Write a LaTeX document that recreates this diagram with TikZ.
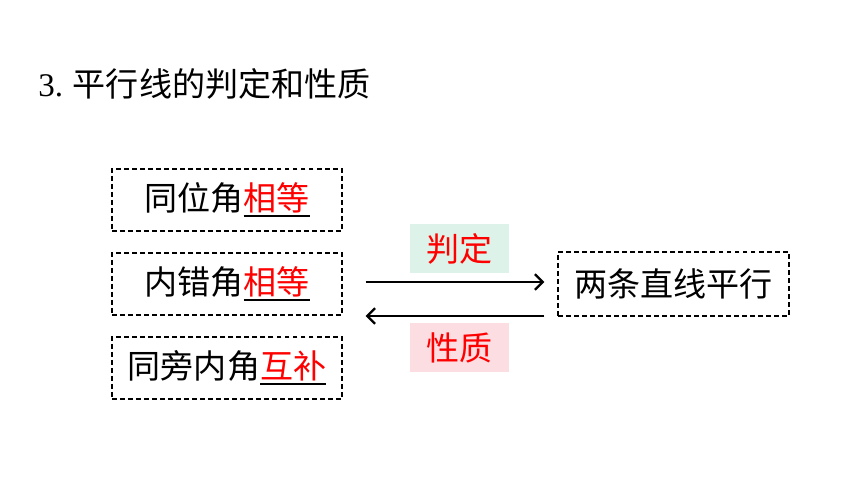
\documentclass[tikz,border=0pt]{standalone}
\usepackage{fontspec}
\setmainfont{Liberation Serif}
\newfontfamily\cjk{Noto Sans CJK SC}
\usetikzlibrary{arrows.meta}

\definecolor{jdgreen}{RGB}{221,243,233}
\definecolor{xzpink}{RGB}{251,221,226}

\newsavebox\fillbox
\newcommand{\fillin}[1]{\sbox\fillbox{\textcolor{red}{#1}}\leavevmode\rlap{\rule[-4.5pt]{\wd\fillbox}{1.3pt}}\usebox\fillbox}

\begin{document}
\begin{tikzpicture}[x=0.025cm, y=-0.025cm, every node/.style={font=\cjk\fontsize{23.5}{28}\selectfont}]
  \tikzset{
    condbox/.style={draw, line width=1pt, dash pattern=on 3.5pt off 2.2pt,
      minimum width=5.75cm, minimum height=1.55cm, inner sep=0pt},
    tagbox/.style={minimum width=2.475cm, minimum height=1.225cm, inner sep=0pt, text=red},
    link/.style={line width=1.6pt, -{Straight Barb[length=5.5pt,width=11pt]}}
  }
  \useasboundingbox (0,0) rectangle (860,484);

  % title
  \node (title) [anchor=west, inner sep=0pt] at (38,84) {{\rmfamily 3.} 平行线的判定和性质};

  % conditions
  \node (corr) [condbox] at (227,200) {同位角\fillin{相等}};
  \node (alt)  [condbox] at (227,284) {内错角\fillin{相等}};
  \node (same) [condbox] at (227,368) {同旁内角\fillin{互补}};

  % conclusion
  \node (par) [condbox, minimum width=5.775cm, minimum height=1.6cm] at (673.5,284) {两条直线平行};

  % arrows
  \coordinate (a1) at ([shift={(23,-2)}]alt.east);
  \coordinate (b1) at ([shift={(-13,-2)}]par.west);
  \coordinate (a2) at ([shift={(23,32)}]alt.east);
  \coordinate (b2) at ([shift={(-13,32)}]par.west);
  \draw[link] (a1) -- (b1);
  \draw[link] (b2) -- (a2);

  \node (judge) [tagbox, fill=jdgreen] at (459.5,248.5) {判定};
  \node (prop)  [tagbox, fill=xzpink]  at (459.5,347.5) {性质};
\end{tikzpicture}
\end{document}
